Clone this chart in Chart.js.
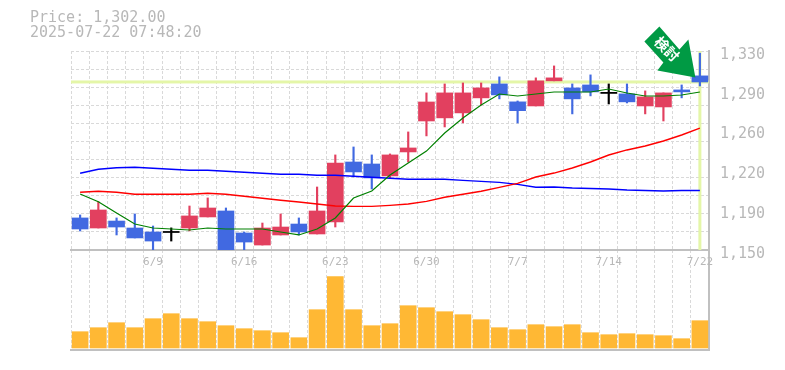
<!DOCTYPE html>
<html>
<head>
<meta charset="utf-8">
<title>Price chart</title>
<script src="https://cdn.jsdelivr.net/npm/chart.js@4"></script>
<style>
  html, body { margin: 0; padding: 0; background: #fff; overflow: hidden; }
  #wrap { position: relative; width: 785px; height: 370px; }
  #wrap canvas { position: absolute; left: 0; }
  #head { position: absolute; left: 30px; top: 10px; font: 15px/15px "DejaVu Sans Mono", monospace; color: #b8b8b8; white-space: pre; }
</style>
</head>
<body>
<div id="wrap">
  <canvas id="volume" style="top:250px"></canvas>
  <canvas id="price" style="top:0"></canvas>
  <div id="head">Price: 1,302.00
2025-07-22 07:48:20</div>
</div>
<script>
// -- Data ---------------------------------------------------------------------
const dates = ['6/3','6/4','6/5','6/6','6/9','6/10','6/11','6/12','6/13','6/16','6/17','6/18','6/19','6/20','6/23','6/24','6/25','6/26','6/27','6/30','7/1','7/2','7/3','7/4','7/7','7/8','7/9','7/10','7/11','7/14','7/15','7/16','7/17','7/18','7/22'];
const shownDates = ['6/9','6/16','6/23','6/30','7/7','7/14','7/22'];
const priceLabels = ['1,150','1,190','1,220','1,260','1,290','1,330'];
const priceTicks = [1150, 1186, 1222, 1258, 1294, 1330];

const open  = [1179,1169.9,1176.2,1169.9,1166.3,1166.3,1169.9,1179.9,1185.3,1165.4,1154.5,1163.6,1173.5,1164.5,1175.3,1229.6,1227.8,1217,1238.7,1266.7,1269.5,1274,1287.6,1300.2,1284,1280.3,1303,1296.6,1299.3,1292.1,1291.2,1280.3,1279.4,1294.8,1307.5];
const high  = [1181.7,1193.7,1179,1182.6,1171.7,1170,1189.8,1197.1,1188,1166.3,1174.4,1182.6,1179,1207,1236,1243.2,1236,1236.9,1256.8,1292.1,1300.2,1301.1,1301.1,1306.6,1284.8,1305.7,1316.5,1300.2,1308.4,1300.2,1300.2,1293.9,1292.1,1299.3,1328];
const low   = [1167.2,1169.9,1163.6,1160.9,1150,1158.1,1167.2,1179.9,1150,1150,1154.5,1163.6,1163.6,1164.5,1170.8,1216.1,1205.2,1215.2,1229.6,1253.2,1261.3,1265,1281.2,1286.7,1264.9,1280.3,1303,1273.1,1289.4,1282.1,1283,1273.1,1266.7,1287.6,1298.4];
const close = [1169,1186.2,1170.8,1160.9,1158.1,1166.3,1180.8,1188,1150,1157.2,1169.9,1170.8,1166.3,1185.3,1228.7,1220.6,1215.2,1236,1242.3,1283.9,1292.1,1292.1,1296.6,1290.3,1276,1303,1305.7,1286.7,1293,1292.1,1284,1288.5,1292.1,1293,1302];

const ma5  = [1200.7,1193.7,1183.5,1173.5,1169.9,1169,1168.1,1169.9,1169,1169,1169,1166.3,1163.6,1169,1179,1197,1203.4,1217.8,1228.7,1239.5,1255.8,1269.4,1281.2,1291.1,1289.3,1291.1,1292.9,1292.9,1292.9,1295.6,1292,1289.3,1289.3,1290.2,1292.9];
const ma25 = [1202.2,1203.1,1202.2,1200.4,1200.4,1200.4,1200.4,1201.3,1200.4,1198.6,1196.8,1195,1193.4,1191.6,1189.8,1189.5,1189.5,1190.4,1191.6,1194,1197.7,1200.4,1203.1,1206.7,1210.3,1216,1219.6,1224.2,1229.6,1235.9,1240.5,1244.1,1248.6,1254,1260.3];
const ma75 = [1219.4,1223,1224.4,1224.8,1223.9,1223,1222.1,1222.1,1221.2,1220.3,1219.4,1218.5,1218.5,1217.6,1217.6,1216.7,1215.8,1214.9,1214,1214,1214,1213,1212.1,1211.2,1209.4,1206.7,1207,1206.1,1205.6,1205.2,1204.3,1203.8,1203.4,1203.8,1203.8];
const volume = [16.3,20.3,25.3,20.3,29.3,34.3,29.3,26.3,22.3,19.3,17.3,15.3,10.3,38.3,71.3,38.3,22.3,24.3,42.3,40.3,36.3,33.3,28.3,20.3,18.3,23.3,21.3,23.3,15.3,13.3,14.3,13.3,12.3,9.3,27.3];
const lastPrice = 1302;

// -- Styles ---------------------------------------------------------------------
const UP = '#e2405f', DOWN = '#4169e1', FLAT = '#000000';
const GRID = '#d9d9d9', FRAME = '#c0c0c0', MUTED = '#b8b8b8', MARK = '#e4f6a8';
const MONO = '"DejaVu Sans Mono", monospace';
const DASH = [3, 2];

function candleColor(i) {
  if (close[i] > open[i]) return UP;
  if (close[i] < open[i]) return DOWN;
  return FLAT;
}
const colors = dates.map(function (d, i) { return candleColor(i); });

// body has to stay visible for a doji, so give it a sliver of height
function bodyRange(i) {
  if (open[i] === close[i]) return [open[i] - 0.5, open[i] + 0.5];
  return [open[i], close[i]];
}

// Pale crosshair on the latest price, under the candles
const lastMark = {
  id: 'lastMark',
  beforeDatasetsDraw(chart) {
    const c = chart.ctx, a = chart.chartArea;
    const py = chart.scales.y.getPixelForValue(lastPrice);
    const px = chart.scales.x.getPixelForValue(dates.length - 1);
    c.save();
    c.fillStyle = MARK;
    c.fillRect(a.left, py - 1.5, a.right - a.left, 3);
    c.fillRect(px - 1.5, a.top, 3, a.bottom - a.top);
    c.restore();
  }
};

// Green signal arrow, tip sits on the last candle
const signalArrow = {
  id: 'signalArrow',
  afterDatasetsDraw(chart) {
    const c = chart.ctx;
    const tx = chart.scales.x.getPixelForValue(dates.length - 1) - 4.5;
    const ty = chart.scales.y.getPixelForValue(close[dates.length - 1]) - 4.5;
    const shape = [[-36, -51], [-51, -36], [-32, -15], [-38, -7], [0, 0], [-7, -38], [-16, -28]];
    c.save();
    c.translate(tx, ty);
    c.fillStyle = '#009a44';
    c.beginPath();
    shape.forEach(function (p, i) { if (i) c.lineTo(p[0], p[1]); else c.moveTo(p[0], p[1]); });
    c.closePath();
    c.fill();
    c.translate(-28.5, -28.5);
    c.rotate(Math.PI / 4);
    c.fillStyle = '#ffffff';
    c.font = 'bold 14px "Noto Sans CJK JP"';
    c.textAlign = 'center';
    c.textBaseline = 'middle';
    c.fillText('検討', 0, 0);
    c.restore();
  }
};

function lineSet(data, color, width, order) {
  return { type: 'line', data: data, borderColor: color, borderWidth: width, pointRadius: 0, tension: 0, order: order, yAxisID: 'y' };
}

const priceCanvas = document.getElementById('price');
priceCanvas.width = 785; priceCanvas.height = 270;
new Chart(priceCanvas, {
  type: 'bar',
  data: {
    labels: dates,
    datasets: [
      lineSet(ma5, '#008000', 1.2, 1),
      lineSet(ma25, '#ff0000', 1.4, 1),
      lineSet(ma75, '#0000ff', 1.4, 1),
      { data: dates.map(function (d, i) { return bodyRange(i); }), backgroundColor: colors, barThickness: 16, grouped: false, order: 2, yAxisID: 'y' },
      { data: dates.map(function (d, i) { return [low[i], high[i]]; }), backgroundColor: colors, barThickness: 1.5, grouped: false, order: 3, yAxisID: 'y' }
    ]
  },
  options: {
    responsive: false,
    animation: false,
    layout: { padding: { top: 51, left: 71, right: 0, bottom: 0 } },
    plugins: { legend: { display: false }, tooltip: { enabled: false } },
    scales: {
      x: {
        afterFit: function (s) { s.height = 20; },
        grid: { color: GRID, drawTicks: false, tickLength: 0 },
        border: { color: FRAME, width: 2, dash: DASH },
        ticks: {
          autoSkip: false, maxRotation: 0, padding: 6,
          color: MUTED, font: { family: MONO, size: 11 },
          callback: function (v) { const d = this.getLabelForValue(v); return shownDates.indexOf(d) >= 0 ? d : ''; }
        }
      },
      y: {
        position: 'right', min: 1150, max: 1330,
        afterBuildTicks: function (s) { s.ticks = priceTicks.map(function (v) { return { value: v }; }); },
        afterFit: function (s) { s.width = 76; },
        grid: { display: false },
        border: { color: FRAME, width: 2 },
        ticks: {
          padding: 3, labelOffset: 4,
          color: MUTED, font: { family: MONO, size: 15 },
          callback: function (v) { return priceLabels[priceTicks.indexOf(v)]; }
        }
      },
      // 11 dashed rows behind the price axis, they do not line up with the labels
      yGrid: {
        position: 'left', min: 1150, max: 1330,
        afterBuildTicks: function (s) {
          const t = [];
          for (let i = 0; i <= 11; i++) t.push({ value: 1150 + i * 180 / 11 });
          s.ticks = t;
        },
        afterFit: function (s) { s.width = 0; },
        grid: { color: GRID, drawTicks: false },
        border: { display: false, dash: DASH },
        ticks: { display: false }
      }
    },
    datasets: { bar: { borderWidth: 0 } }
  },
  plugins: [lastMark, signalArrow]
});

const volumeCanvas = document.getElementById('volume');
volumeCanvas.width = 785; volumeCanvas.height = 110;
new Chart(volumeCanvas, {
  type: 'bar',
  data: {
    labels: dates,
    datasets: [{ data: volume, backgroundColor: '#ffb834', barThickness: 16 }]
  },
  options: {
    responsive: false,
    animation: false,
    layout: { padding: { top: 0, left: 71, right: 0, bottom: 10 } },
    plugins: { legend: { display: false }, tooltip: { enabled: false } },
    scales: {
      x: {
        afterFit: function (s) { s.height = 0; },
        grid: { color: GRID, drawTicks: false },
        border: { color: FRAME, width: 2, dash: DASH },
        ticks: { display: false }
      },
      y: {
        position: 'right', min: -2, max: 98,
        afterFit: function (s) { s.width = 76; },
        grid: { display: false },
        border: { color: FRAME, width: 2 },
        ticks: { display: false }
      }
    }
  }
});
</script>
</body>
</html>
